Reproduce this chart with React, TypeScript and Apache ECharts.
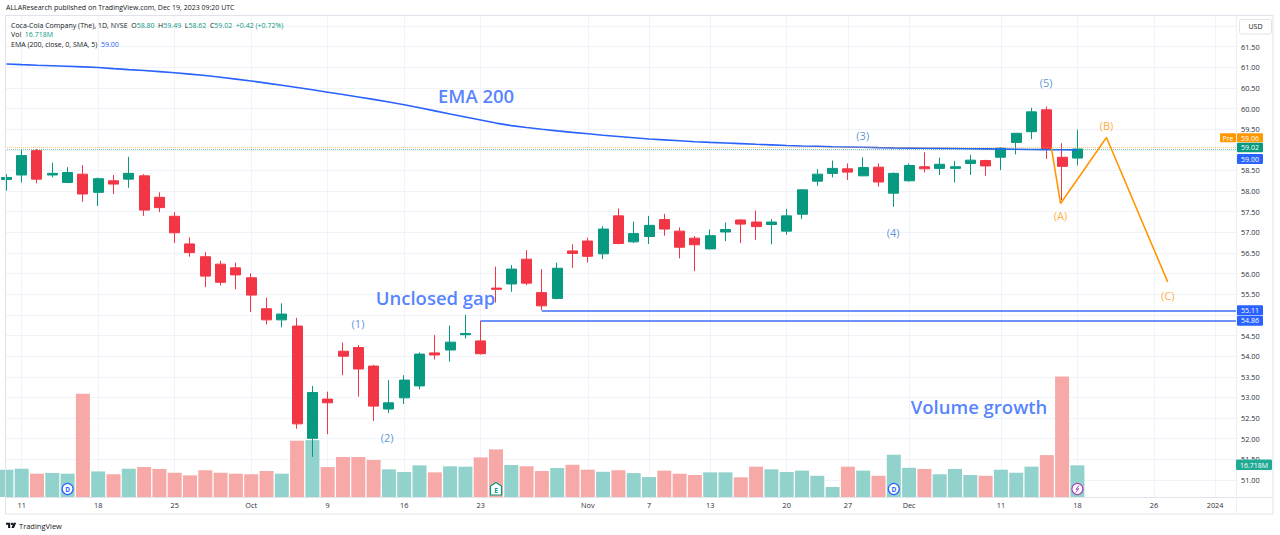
import React, { useEffect, useRef } from "react";
import * as echarts from "echarts";

// ---------- data (Sep 8 2023 = index -1, Sep 11 = index 0, trading days) ----------
const FIRST_IDX = -1;
const OPEN = [
  58.28,
  58.39, 58.98, 58.39, 58.21, 58.41,
  57.97, 58.25, 58.29, 58.37, 57.85,
  57.39, 56.72, 56.41, 56.23, 56.14,
  55.90, 55.15, 54.88, 54.73, 52.01,
  52.96, 54.12, 54.21, 53.76, 52.72,
  52.99, 53.28, 54.08, 54.15, 54.52,
  54.37, 55.65, 55.75, 56.35, 55.54,
  55.40, 56.55, 56.79, 56.48, 57.40,
  56.77, 56.90, 57.31, 57.03, 56.86,
  56.60, 57.01, 57.30, 57.25, 57.19,
  57.03, 57.44, 58.24, 58.43,
  58.54, 58.37, 58.58, 57.95, 58.25,
  58.59, 58.55, 58.55, 58.67, 58.74,
  58.82, 59.18, 59.44, 59.97, 58.82,
  58.80,
];
const HIGH = [
  58.41,
  59.00, 59.02, 58.69, 58.58, 58.63,
  58.33, 58.39, 58.83, 58.41, 57.97,
  57.49, 56.88, 56.52, 56.31, 56.27,
  56.01, 55.42, 55.28, 54.93, 53.28,
  53.14, 54.33, 54.27, 53.79, 53.42,
  53.54, 54.09, 54.51, 54.74, 55.00,
  54.86, 56.17, 56.21, 56.57, 56.11,
  56.27, 56.71, 56.87, 57.15, 57.58,
  57.26, 57.40, 57.45, 57.12, 56.91,
  57.07, 57.24, 57.32, 57.53, 57.32,
  57.57, 58.04, 58.53, 58.74,
  58.67, 58.82, 58.67, 58.45, 58.67,
  58.94, 58.81, 58.73, 58.88, 58.76,
  59.06, 59.40, 60.02, 60.05, 59.16,
  59.49,
];
const LOW = [
  58.01,
  58.21, 58.19, 58.33, 58.19, 57.74,
  57.64, 57.93, 58.08, 57.40, 57.49,
  56.74, 56.41, 55.67, 55.71, 55.62,
  55.07, 54.77, 54.70, 52.24, 51.56,
  52.11, 53.54, 53.02, 52.43, 52.62,
  52.84, 53.20, 53.92, 53.87, 54.43,
  54.04, 55.30, 55.56, 55.72, 55.11,
  55.38, 56.14, 56.27, 56.35, 56.71,
  56.74, 56.72, 56.92, 56.37, 56.06,
  56.59, 56.79, 56.74, 56.82, 56.71,
  56.94, 57.32, 58.13, 58.33,
  58.27, 58.37, 58.11, 57.62, 58.23,
  58.45, 58.39, 58.21, 58.39, 58.37,
  58.51, 58.89, 59.26, 58.78, 57.78,
  58.62,
];
const CLOSE = [
  58.33,
  58.86, 58.29, 58.43, 58.45, 57.93,
  58.30, 58.17, 58.43, 57.54, 57.60,
  56.99, 56.51, 55.94, 55.79, 55.97,
  55.48, 54.88, 55.02, 52.36, 53.12,
  52.87, 54.00, 53.69, 52.79, 52.87,
  53.42, 54.05, 54.03, 54.34, 54.55,
  54.06, 55.62, 56.11, 55.77, 55.22,
  56.13, 56.49, 56.42, 57.08, 56.73,
  56.97, 57.17, 57.08, 56.64, 56.70,
  56.92, 57.07, 57.20, 57.14, 57.25,
  57.40, 58.03, 58.41, 58.55,
  58.46, 58.57, 58.22, 58.43, 58.62,
  58.54, 58.65, 58.59, 58.75, 58.61,
  59.04, 59.40, 59.92, 59.02, 58.60,
  59.02,
];
const VOLUME_M = [
  14.4,
  14.9, 12.3, 12.7, 12.3, 54.5,
  13.5, 12.0, 14.9, 15.8, 14.8,
  12.8, 11.4, 14.1, 12.8, 12.3,
  12.0, 13.7, 12.3, 29.7, 30.0,
  15.8, 21.1, 21.1, 19.5, 14.6,
  13.2, 16.7, 13.0, 16.2, 16.0,
  20.9, 25.1, 16.9, 16.2, 13.7,
  15.3, 17.0, 14.4, 13.3, 14.1,
  12.6, 10.5, 13.9, 12.3, 11.6,
  13.0, 13.0, 10.4, 16.0, 14.6,
  13.2, 13.9, 11.2, 5.3,
  16.0, 13.9, 11.2, 22.3, 15.4,
  14.8, 12.0, 14.8, 11.6, 11.2,
  14.4, 12.8, 16.0, 22.1, 63.6,
  16.718,
];
const EMA200 = [
  61.080,
  61.065, 61.051, 61.039, 61.024, 61.010,
  60.995, 60.968, 60.944, 60.922, 60.896,
  60.867, 60.835, 60.801, 60.758, 60.714,
  60.668, 60.617, 60.566, 60.511, 60.455,
  60.397, 60.339, 60.281, 60.222, 60.159,
  60.091, 60.019, 59.944, 59.869, 59.796,
  59.723, 59.648, 59.587, 59.541, 59.498,
  59.459, 59.423, 59.389, 59.352, 59.323,
  59.294, 59.263, 59.241, 59.219, 59.197,
  59.180, 59.166, 59.151, 59.134, 59.120,
  59.105, 59.093, 59.086, 59.076,
  59.069, 59.062, 59.054, 59.047, 59.042,
  59.037, 59.035, 59.033, 59.028, 59.023,
  59.018, 59.013, 59.008, 59.004, 59.001,
  59.000,
];
const PRE_PRICE = 59.06;

const X_TICK_IDX = [0, 5, 10, 15, 20, 25, 30, 37, 41, 45, 50, 54, 58, 64, 69, 74, 78];
const X_TICK_LABELS = ["11", "18", "25", "Oct", "9", "16", "23", "Nov", "7", "13", "20", "27", "Dec", "11", "18", "26", "2024"];

const WAVE_NAMES = ["(1)", "(2)", "(3)", "(4)", "(5)"];
const WAVE_X = [21.98, 23.88, 54.97, 56.96, 66.95];
const WAVE_Y = [54.8, 52.02, 59.34, 57.0, 60.64];

const ABC_NAMES = ["(A)", "(B)", "(C)"];
const ABC_X = [67.9, 70.9, 74.9];
const ABC_Y = [57.4, 59.59, 55.48];
const ABC_PATH_X = [67.3, 67.9, 70.9, 74.9];
const ABC_PATH_Y = [59.04, 57.7, 59.3, 55.8];

const NOTE_TEXT = ["EMA 200", "Unclosed gap", "Volume growth"];
const NOTE_X = [29.7, 27.05, 62.57];
const NOTE_Y = [60.32, 55.43, 52.78];

const GAP_START = [30, 34];
const GAP_PRICE = [54.86, 55.11];

const EVENT_IDX = [3, 31, 57, 69];
const EVENT_KIND = ["D", "E", "D", "S"];

// ---------- layout / style ----------
const FONT = "'Open Sans', 'Noto Sans', sans-serif";
const UP = "#089981";
const DOWN = "#f23645";
const VOL_UP = "#92d2cc";
const VOL_DOWN = "#f7a9a7";
const BLUE = "#2962ff";
const ORANGE = "#ff9800";
const GRID_COLOR = "#f0f3fa";
const TEXT = "#131722";
const X_MIN = -1.0915;
const X_MAX = 79.366;
const PRICE_MIN = 50.588;
const PRICE_MAX = 62.267;
const VOL_MAX = 70;

export default function App() {
  const ref = useRef<HTMLDivElement>(null);

  useEffect(() => {
    const el = ref.current;
    if (!el) return;
    const chart = echarts.init(el, undefined, { renderer: "svg" });

    const idx = OPEN.map((_, k) => k + FIRST_IDX);
    const candles = idx.map((x, k) => [x, OPEN[k], CLOSE[k], LOW[k], HIGH[k]]);
    const vols = idx.map((x, k) => ({
      value: [x, VOLUME_M[k]],
      itemStyle: { color: CLOSE[k] >= OPEN[k] ? VOL_UP : VOL_DOWN },
    }));
    const ema = idx.map((x, k) => [x, EMA200[k]]);
    const last = OPEN.length - 1;
    const lastClose = CLOSE[last];
    // prices that carry a coloured box on the price scale (their plain tick label is covered)
    const boxedPrices = [lastClose, PRE_PRICE, EMA200[last], ...GAP_PRICE];

    const priceLabel = (v: number) => {
      const r = Math.round(v * 2) / 2;
      if (Math.abs(v - r) > 1e-6 || v < 50.99 || v > 61.51) return "";
      if (boxedPrices.some((p) => Math.abs(p - v) < 0.15)) return "";
      return v.toFixed(2);
    };

    const option: any = {
      animation: false,
      backgroundColor: "#ffffff",
      textStyle: { fontFamily: FONT },
      grid: [
        { left: 5, right: 44, top: 15, bottom: 38, outerBoundsMode: "none" },
        { left: 5, right: 44, top: 364.3, bottom: 38, outerBoundsMode: "none" },
      ],
      xAxis: [
        {
          type: "value", gridIndex: 0, min: X_MIN, max: X_MAX,
          axisLine: { show: false },
          axisTick: { show: false, customValues: X_TICK_IDX },
          axisLabel: { show: false, customValues: X_TICK_IDX },
          splitLine: { show: true, lineStyle: { color: GRID_COLOR, width: 1 } },
        },
        {
          type: "value", gridIndex: 1, min: X_MIN, max: X_MAX,
          axisLine: { show: false },
          axisTick: { show: false, customValues: X_TICK_IDX },
          axisLabel: {
            show: true, customValues: X_TICK_IDX,
            formatter: (v: number) => {
              const i = X_TICK_IDX.indexOf(Math.round(v));
              return i >= 0 ? X_TICK_LABELS[i] : "";
            },
            fontSize: 7.3, color: "#2a2e39", fontFamily: FONT, margin: 4,
          },
          splitLine: { show: false },
        },
      ],
      yAxis: [
        {
          type: "value", gridIndex: 0, position: "right",
          min: PRICE_MIN, max: PRICE_MAX, splitNumber: 24, minInterval: 0.5, maxInterval: 0.5,
          axisLine: { show: false }, axisTick: { show: false },
          axisLabel: { formatter: priceLabel, fontSize: 7.3, color: "#2a2e39", fontFamily: FONT, margin: 5, align: "left" },
          splitLine: { show: true, lineStyle: { color: GRID_COLOR, width: 1 } },
        },
        { type: "value", gridIndex: 1, min: 0, max: VOL_MAX, show: false },
      ],
      series: [
        {
          type: "bar", name: "Vol", xAxisIndex: 1, yAxisIndex: 1, barWidth: 14,
          data: vols, silent: true, z: 1,
        },
        {
          type: "candlestick", name: "KO", xAxisIndex: 0, yAxisIndex: 0, barWidth: 10.5,
          data: candles, silent: true, z: 3,
          itemStyle: { color: UP, color0: DOWN, borderColor: UP, borderColor0: DOWN, borderWidth: 1 },
          markLine: {
            silent: true, symbol: ["none", "none"], label: { show: false },
            lineStyle: { color: BLUE, width: 1.5, type: "solid" },
            data: [
              ...GAP_START.map((s, k) => [
                { coord: [s, GAP_PRICE[k]], lineStyle: { color: "#3f6cf5", width: 1.5, type: "solid" } },
                { coord: [X_MAX, GAP_PRICE[k]], lineStyle: { color: "#3f6cf5", width: 1.5, type: "solid" } },
              ]),
              { yAxis: PRE_PRICE, lineStyle: { color: ORANGE, width: 1, type: "dotted", opacity: 0.55 } },
              { yAxis: lastClose, lineStyle: { color: UP, width: 1, type: "dotted", opacity: 0.55 } },
            ],
          },
        },
        {
          type: "line", name: "EMA", xAxisIndex: 0, yAxisIndex: 0, data: ema,
          symbol: "none", silent: true, z: 4,
          lineStyle: { color: BLUE, width: 1.6 },
        },
        {
          type: "line", name: "ABC", xAxisIndex: 0, yAxisIndex: 0,
          data: ABC_PATH_X.map((x, k) => [x, ABC_PATH_Y[k]]),
          symbol: "none", silent: true, z: 5,
          lineStyle: { color: ORANGE, width: 1.6 },
        },
        {
          type: "scatter", xAxisIndex: 0, yAxisIndex: 0, symbolSize: 1, silent: true, z: 6,
          itemStyle: { color: "rgba(0,0,0,0)" },
          data: WAVE_NAMES.map((t, k) => ({ name: t, value: [WAVE_X[k], WAVE_Y[k]] })),
          label: { show: true, position: "inside", formatter: "{b}", color: "#3179c9", fontSize: 11, fontFamily: FONT },
        },
        {
          type: "scatter", xAxisIndex: 0, yAxisIndex: 0, symbolSize: 1, silent: true, z: 6,
          itemStyle: { color: "rgba(0,0,0,0)" },
          data: ABC_NAMES.map((t, k) => ({ name: t, value: [ABC_X[k], ABC_Y[k]] })),
          label: { show: true, position: "inside", formatter: "{b}", color: ORANGE, fontSize: 11, fontFamily: FONT },
        },
        {
          type: "scatter", xAxisIndex: 0, yAxisIndex: 0, symbolSize: 1, silent: true, z: 6,
          itemStyle: { color: "rgba(0,0,0,0)" },
          data: NOTE_TEXT.map((t, k) => ({ name: t, value: [NOTE_X[k], NOTE_Y[k]] })),
          label: { show: true, position: "inside", formatter: "{b}", color: BLUE, fontSize: 18.5, fontWeight: 600, fontFamily: FONT },
        },
      ],
    };
    chart.setOption(option);

    // ---------- pixel positions from the chart's own scales ----------
    const xP = (v: number) => chart.convertToPixel({ xAxisIndex: 0 }, v) as number;
    const yP = (v: number) => chart.convertToPixel({ yAxisIndex: 0 }, v) as number;
    const yV = (v: number) => chart.convertToPixel({ yAxisIndex: 1 }, v) as number;
    const plotRight = xP(X_MAX);
    const plotTop = yP(PRICE_MAX);
    const plotBottom = yP(PRICE_MIN);
    const frameRight = 1273;
    const frameBottom = 514;

    const txt = (x: number, y: number, text: string, fill: string, size = 7, align = "left", extra: any = {}) => ({
      type: "text", x, y, z: 100,
      style: { text, fill, fontSize: size, fontFamily: FONT, align, verticalAlign: "middle", ...extra },
    });
    const box = (x: number, yc: number, w: number, h: number, fill: string, text: string) => ({
      type: "group", z: 100,
      children: [
        { type: "rect", z: 100, shape: { x, y: yc - h / 2, width: w, height: h, r: 1 }, style: { fill } },
        { type: "text", z: 101, x: x + w / 2, y: yc + 0.3, style: { text, fill: "#ffffff", fontSize: 7, fontFamily: FONT, align: "center", verticalAlign: "middle" } },
      ],
    });

    const o = OPEN[last], h = HIGH[last], l = LOW[last], c = CLOSE[last];
    const chg = c - CLOSE[last - 1];
    const pct = (chg / CLOSE[last - 1]) * 100;
    const sign = chg >= 0 ? "+" : "";
    const rich = {
      l: { fill: TEXT, fontSize: 7, fontFamily: FONT },
      v: { fill: UP, fontSize: 7, fontFamily: FONT },
      b: { fill: BLUE, fontSize: 7, fontFamily: FONT },
    };

    const graphics: any[] = [];
    // frame & separators
    graphics.push({ type: "rect", z: 90, shape: { x: 5.5, y: 15.5, width: frameRight - 5.5, height: frameBottom - 15.5 }, style: { fill: "none", stroke: "#e0e3eb", lineWidth: 1 } });
    graphics.push({ type: "line", z: 90, shape: { x1: 5.5, y1: Math.round(plotBottom) + 0.5, x2: frameRight, y2: Math.round(plotBottom) + 0.5 }, style: { stroke: "#e0e3eb", lineWidth: 1 } });
    graphics.push({ type: "line", z: 90, shape: { x1: Math.round(plotRight) + 0.5, y1: plotTop, x2: Math.round(plotRight) + 0.5, y2: frameBottom }, style: { stroke: "#eef0f5", lineWidth: 1 } });

    // header texts
    graphics.push(txt(6, 7.5, "ALLAResearch published on TradingView.com, Dec 19, 2023 09:20 UTC", TEXT, 7));
    graphics.push({
      type: "text", x: 11, y: 25, z: 100,
      style: {
        text: `{l|Coca-Cola Company (The), 1D, NYSE  O}{v|${o.toFixed(2)}}{l|  H}{v|${h.toFixed(2)}}{l|  L}{v|${l.toFixed(2)}}{l|  C}{v|${c.toFixed(2)}}{v|  ${sign}${chg.toFixed(2)} (${sign}${pct.toFixed(2)}%)}`,
        rich, fontSize: 7, fontFamily: FONT, align: "left", verticalAlign: "middle",
      },
    });
    graphics.push({
      type: "text", x: 11, y: 34.5, z: 100,
      style: { text: `{l|Vol  }{v|${VOLUME_M[last].toFixed(3)}M}`, rich, fontSize: 7, fontFamily: FONT, align: "left", verticalAlign: "middle" },
    });
    graphics.push({
      type: "text", x: 11, y: 44.5, z: 100,
      style: { text: `{l|EMA (200, close, 0, SMA, 5)  }{b|${EMA200[last].toFixed(2)}}`, rich, fontSize: 7, fontFamily: FONT, align: "left", verticalAlign: "middle" },
    });

    // USD box
    graphics.push({ type: "rect", z: 100, shape: { x: 1239.5, y: 19.5, width: 32, height: 14.5, r: 2 }, style: { fill: "#ffffff", stroke: "#e0e3eb", lineWidth: 1 } });
    graphics.push(txt(1255.5, 26.8, "USD", TEXT, 7, "center"));

    // price-scale boxes
    const bx = Math.round(plotRight) + 1;
    const bw = 26;
    const yLast = yP(lastClose) - 1.5;
    const yPre = yLast - 9.8;
    const yEma = yLast + 11.5;
    graphics.push(box(bx - 17, yPre, 16, 9, ORANGE, "Pre"));
    graphics.push(box(bx, yPre, bw, 9, ORANGE, PRE_PRICE.toFixed(2)));
    graphics.push(box(bx, yLast, bw, 9.6, UP, lastClose.toFixed(2)));
    graphics.push(box(bx, yEma, bw, 10, BLUE, EMA200[last].toFixed(2)));
    GAP_PRICE.forEach((p) => graphics.push(box(bx, yP(p), bw, 10, BLUE, p.toFixed(2))));
    graphics.push(box(bx - 1, yV(VOLUME_M[last]) - 0.5, 36, 10.5, "#22ab94", `${VOLUME_M[last].toFixed(3)}M`));

    // event icons
    const iy = plotBottom - 8;
    EVENT_IDX.forEach((ei, k) => {
      const x = xP(ei);
      const kind = EVENT_KIND[k];
      if (kind === "D") {
        graphics.push({ type: "circle", z: 100, shape: { cx: x, cy: iy, r: 5.5 }, style: { fill: "#ffffff", stroke: BLUE, lineWidth: 1.2 } });
        graphics.push(txt(x, iy + 0.3, "D", BLUE, 6.5, "center", { fontWeight: "bold" }));
      } else if (kind === "E") {
        graphics.push({ type: "polygon", z: 100, shape: { points: [[x, iy - 6.5], [x + 5.5, iy - 3], [x + 5.5, iy + 6], [x - 5.5, iy + 6], [x - 5.5, iy - 3]] }, style: { fill: "#ffffff", stroke: UP, lineWidth: 1.2 } });
        graphics.push(txt(x, iy + 1, "E", UP, 6.5, "center", { fontWeight: "bold" }));
      } else {
        graphics.push({ type: "circle", z: 100, shape: { cx: x, cy: iy, r: 5.5 }, style: { fill: "#ffffff", stroke: "#ab47bc", lineWidth: 1.2 } });
        graphics.push({ type: "polyline", z: 101, shape: { points: [[x + 1.6, iy - 3.5], [x - 1.4, iy + 0.4], [x + 1.4, iy - 0.4], [x - 1.6, iy + 3.5]] }, style: { stroke: "#ab47bc", lineWidth: 1, fill: "none" } });
      }
    });

    // footer logo + text
    graphics.push({
      type: "group", x: 6, y: 521.5, scaleX: 0.3, scaleY: 0.3, z: 100,
      children: [
        { type: "polygon", shape: { points: [[0, 4], [14, 4], [14, 22], [7, 22], [7, 11], [0, 11]] }, style: { fill: TEXT } },
        { type: "circle", shape: { cx: 20, cy: 8, r: 4 }, style: { fill: TEXT } },
        { type: "polygon", shape: { points: [[18, 22], [25.5, 4], [34, 4], [26.5, 22]] }, style: { fill: TEXT } },
      ],
    });
    graphics.push(txt(19, 526, "TradingView", TEXT, 7.5));

    chart.setOption({ graphic: graphics });

    return () => chart.dispose();
  }, []);

  return <div ref={ref} style={{ position: "absolute", left: 0, top: 0, width: 1280, height: 535, background: "#fff" }} />;
}
